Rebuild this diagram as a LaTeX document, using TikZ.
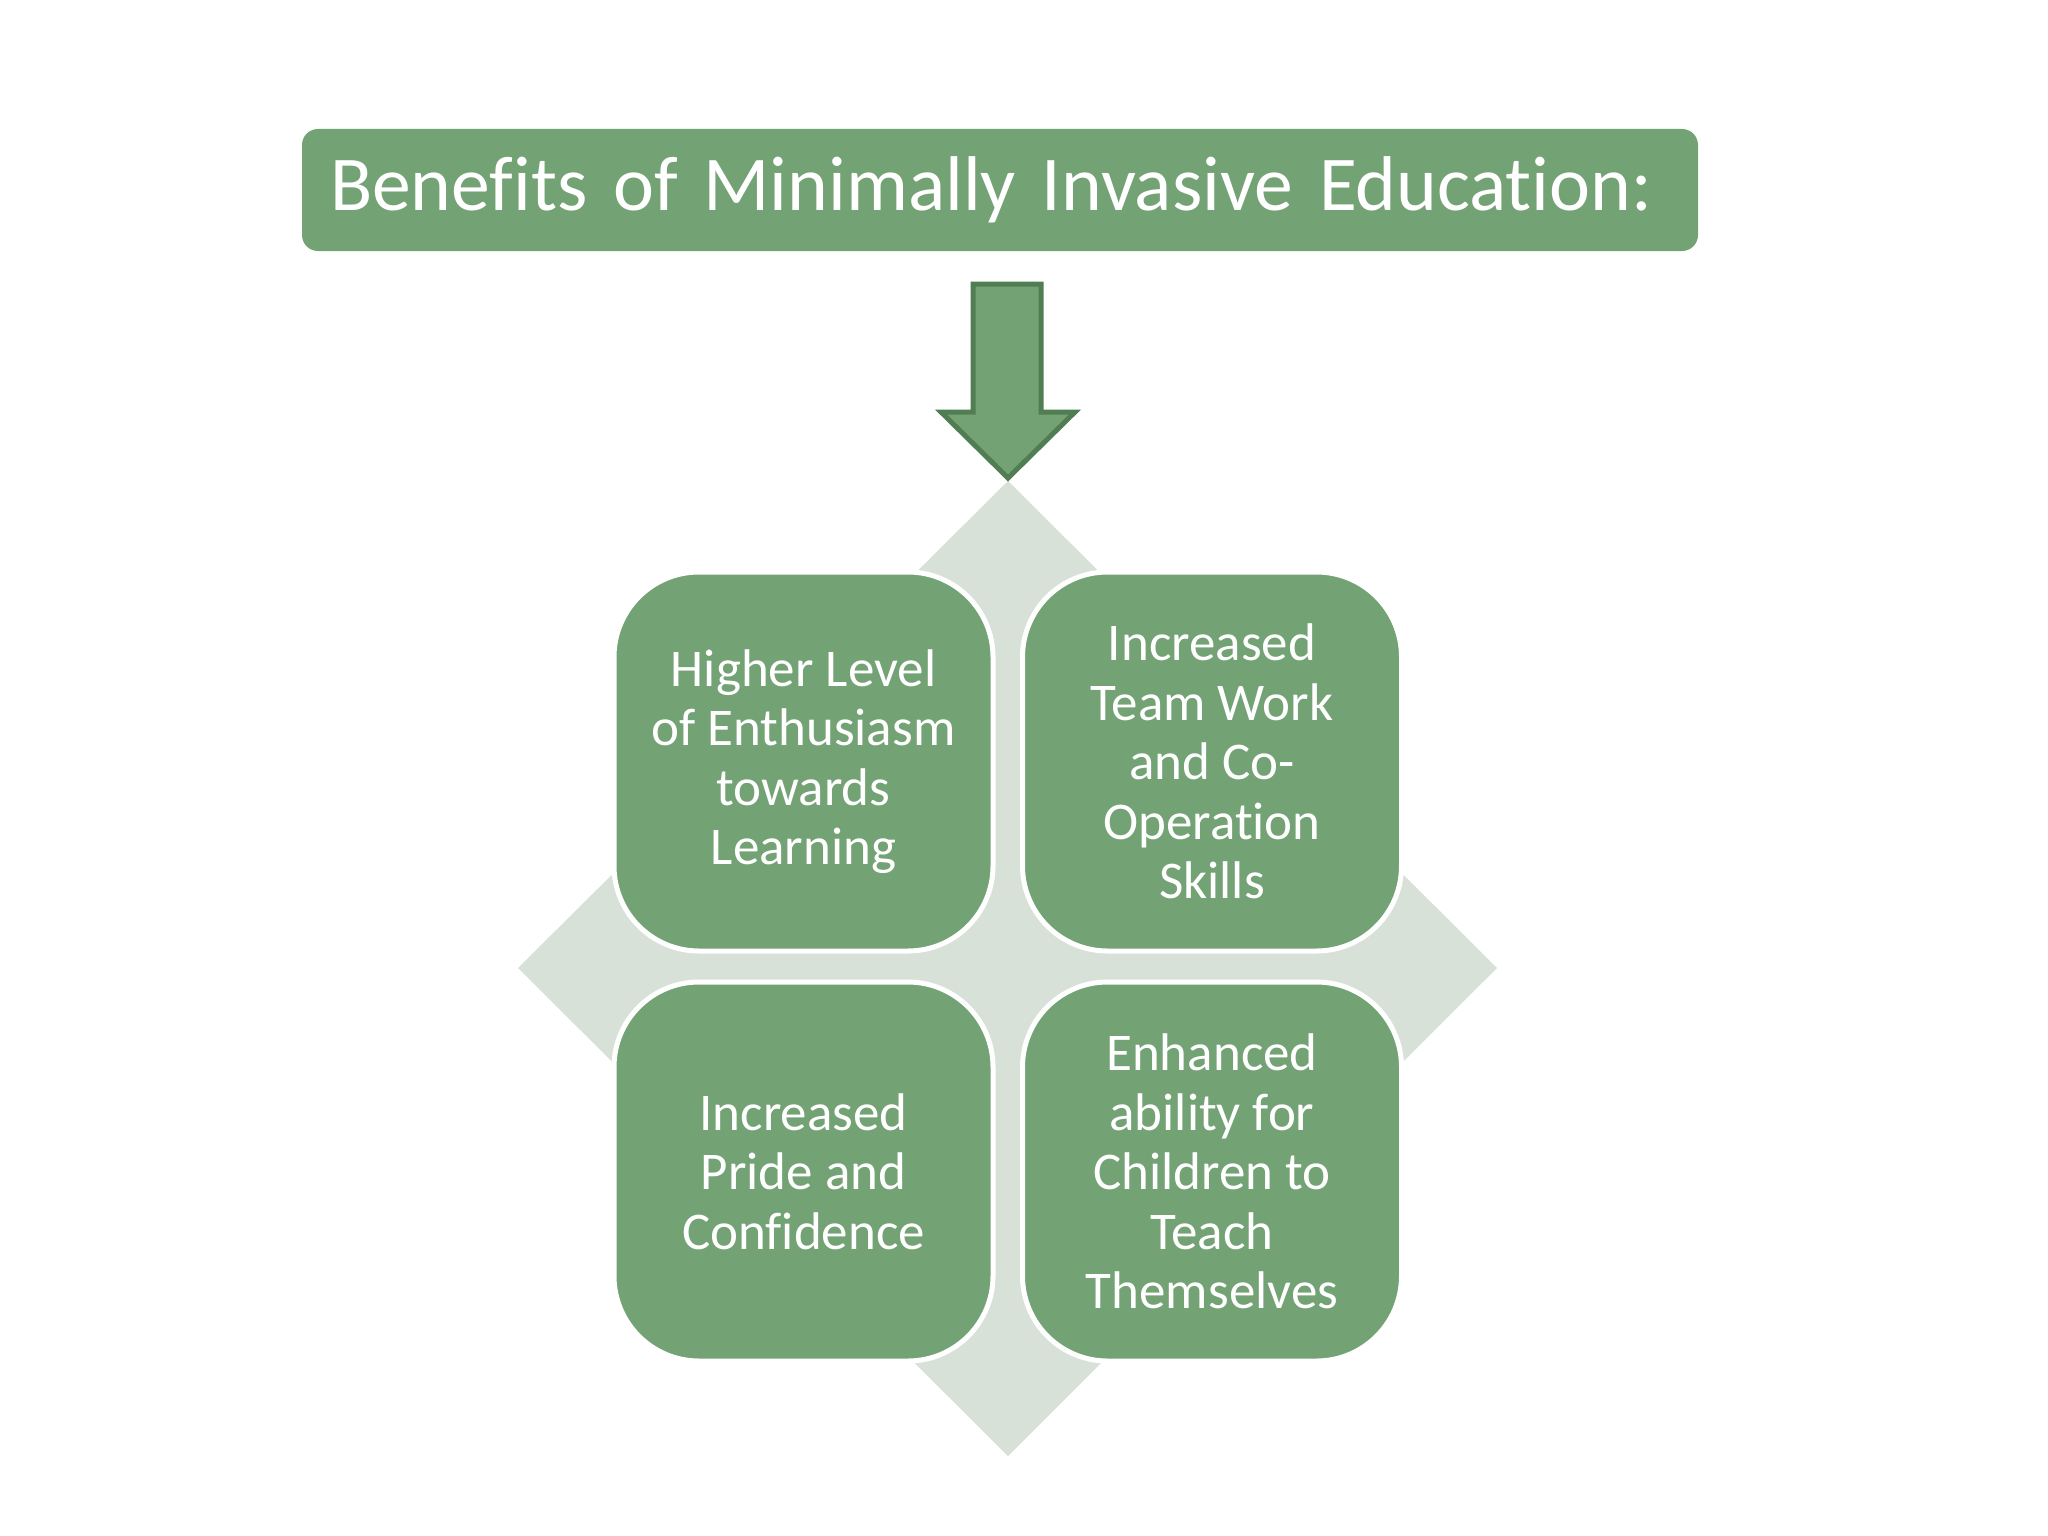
\documentclass[tikz,border=0pt]{standalone}
\usepackage{fontspec}
\setmainfont{Carlito}[Ligatures={NoCommon}]
\definecolor{boxgreen}{RGB}{115,162,116}
\definecolor{arrowedge}{RGB}{80,126,82}
\definecolor{diamondc}{RGB}{216,225,216}
\tikzset{
  benefit/.style={fill=boxgreen, draw=white, line width=5pt, rounded corners=85pt,
    minimum width=379pt, minimum height=379pt, inner sep=0pt, text=white, align=center,
    font=\fontsize{53}{59.4}\selectfont},
  titlebox/.style={fill=boxgreen, rounded corners=16pt, minimum width=1396pt, minimum height=122pt,
    text width=1340pt, align=left, inner sep=0pt, text=white, font=\fontsize{77.6}{90}\selectfont},
  blockarrow/.style={fill=boxgreen, draw=arrowedge, line width=5pt, line join=miter}
}
\begin{document}
\begin{tikzpicture}[x=1pt,y=-1pt]
\useasboundingbox (0,0) rectangle (2048,1536);
\fill[white] (0,0) rectangle (2048,1536);
% background diamond
\coordinate (dtop) at (1008,481);
\coordinate (dright) at (1497,968);
\coordinate (dbottom) at (1008,1456);
\coordinate (dleft) at (518,968);
\fill[diamondc] (dtop) -- (dright) -- (dbottom) -- (dleft) -- cycle;
% title
\node[titlebox] (title) at (1000,190) {\mbox{Benefits of Minimally Invasive Education:}};
% block arrow
\draw[blockarrow] (973,284) -- (1041,284) -- (1041,412) -- (1075,412) -- (1008,478) -- (941,412) -- (973,412) -- cycle;
% benefit boxes
\node[benefit] (b1) at (803.5,761.5) {Higher Level\\of Enthusiasm\\towards\\Learning};
\node[benefit] (b2) at (1212,761.5) {Increased\\Team Work\\and Co-\\Operation\\Skills};
\node[benefit] (b3) at (803.5,1171.5) {Increased\\Pride and\\Confidence};
\node[benefit] (b4) at (1212,1171.5) {Enhanced\\ability for\\Children to\\Teach\\Themselves};
\end{tikzpicture}
\end{document}
